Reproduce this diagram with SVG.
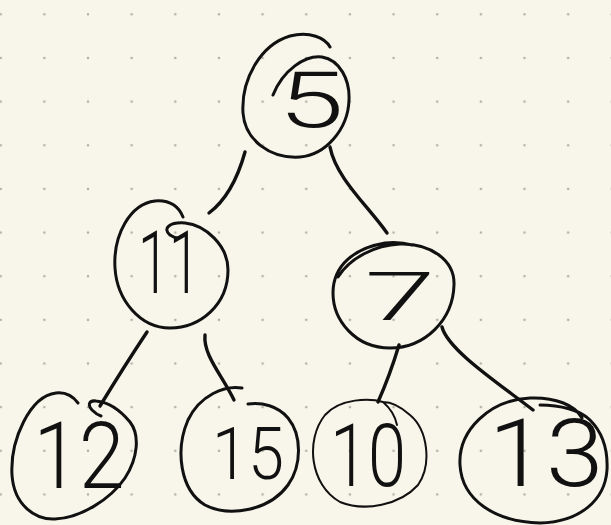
<svg xmlns="http://www.w3.org/2000/svg" width="611" height="525" viewBox="0 0 611 525">
<defs>
<pattern id="dots" patternUnits="userSpaceOnUse" x="-21.125" y="-7.525" width="43.65" height="43.65">
<circle cx="21.825" cy="21.825" r="1.3" fill="#b3b1a6"/>
</pattern>
<style>
.ring{fill:none;stroke:#111;stroke-width:3;stroke-linecap:round;stroke-linejoin:round}
.thin{stroke-width:2}
.edge{fill:none;stroke:#111;stroke-width:3.4;stroke-linecap:round}
.num{font-family:Roboto,"Liberation Sans",sans-serif;font-weight:300;fill:#111;text-anchor:middle}
</style>
</defs>
<rect width="611" height="525" fill="#f8f6ea"/>
<rect width="611" height="525" fill="url(#dots)"/>
<g id="connectors">
<path class="edge" d="M245,152 Q233,195 209,213"/>
<path class="edge" d="M330,147 C336,178 368,206 387,233"/>
<path class="edge" d="M147,332 Q125,365 100,406"/>
<path class="edge" d="M205,335 C203,355 222,375 234,400"/>
<path class="edge" d="M399,345 Q390,375 378,402"/>
<path class="edge" d="M442,327 C448,350 498,383 533,410"/>
</g>
<g id="n5">
<path class="ring" d="M273,95 C283,70 305,55 322,57 C340,60 350,80 349,100 C348,130 325,155 300,157 C270,159 245,140 243,113 C241,80 260,45 290,36 C310,31 325,38 330,47"/>
<text class="num" x="311" y="127" font-size="77" textLength="66" lengthAdjust="spacingAndGlyphs">5</text>
</g>
<g id="n11">
<path class="ring" d="M183,217 C178,205 168,200 155,201 C130,204 113,235 115,268 C117,300 140,328 170,328 C200,328 228,305 228,270 C228,245 205,225 185,223 C170,222 162,228 170,235 C173,237 177,238 178,238"/>
<text class="num" x="169" y="293" font-size="88" textLength="62" lengthAdjust="spacingAndGlyphs">11</text>
</g>
<g id="n7">
<path class="ring" d="M338,277 C350,258 375,245 400,244 C430,243 455,260 454,285 C453,320 425,348 390,348 C355,348 333,320 333,293 C333,265 355,248 385,243 C395,242 405,243 412,245"/>
<text class="num" x="400" y="320" font-size="67" textLength="71" lengthAdjust="spacingAndGlyphs">7</text>
</g>
<g id="n12">
<path class="ring" d="M78,403 C72,395 65,392 56,393 C30,396 10,440 12,475 C14,505 35,520 55,519 C80,518 110,500 125,478 C138,458 140,435 130,422 C120,410 108,402 96,401 C88,400 88,406 92,410 C95,413 98,415 101,416"/>
<text class="num" x="79" y="488" font-size="93" textLength="91" lengthAdjust="spacingAndGlyphs">12</text>
</g>
<g id="n15">
<path class="ring" d="M242,388 C225,385 200,395 188,420 C175,450 180,490 205,505 C230,518 270,510 288,485 C302,465 302,435 288,418 C278,406 262,402 248,404"/>
<text class="num" x="248" y="479" font-size="73" textLength="72" lengthAdjust="spacingAndGlyphs">15</text>
</g>
<g id="n10">
<path class="ring thin" d="M383,402 C370,398 340,398 325,415 C305,440 310,485 340,502 C365,512 400,505 418,485 C432,465 428,430 410,415 C400,406 390,402 383,402 C390,408 395,415 397,425"/>
<text class="num" x="368" y="486" font-size="87" textLength="76" lengthAdjust="spacingAndGlyphs">10</text>
</g>
<g id="n13">
<path class="ring" d="M540,405 C560,405 580,410 590,420 C602,432 608,450 607,470 C605,500 580,522 540,523 C495,522 462,500 460,465 C458,430 490,400 530,398 C555,397 575,405 582,418"/>
<text class="num" x="546" y="486" font-size="94" textLength="115" lengthAdjust="spacingAndGlyphs">13</text>
</g>
</svg>
